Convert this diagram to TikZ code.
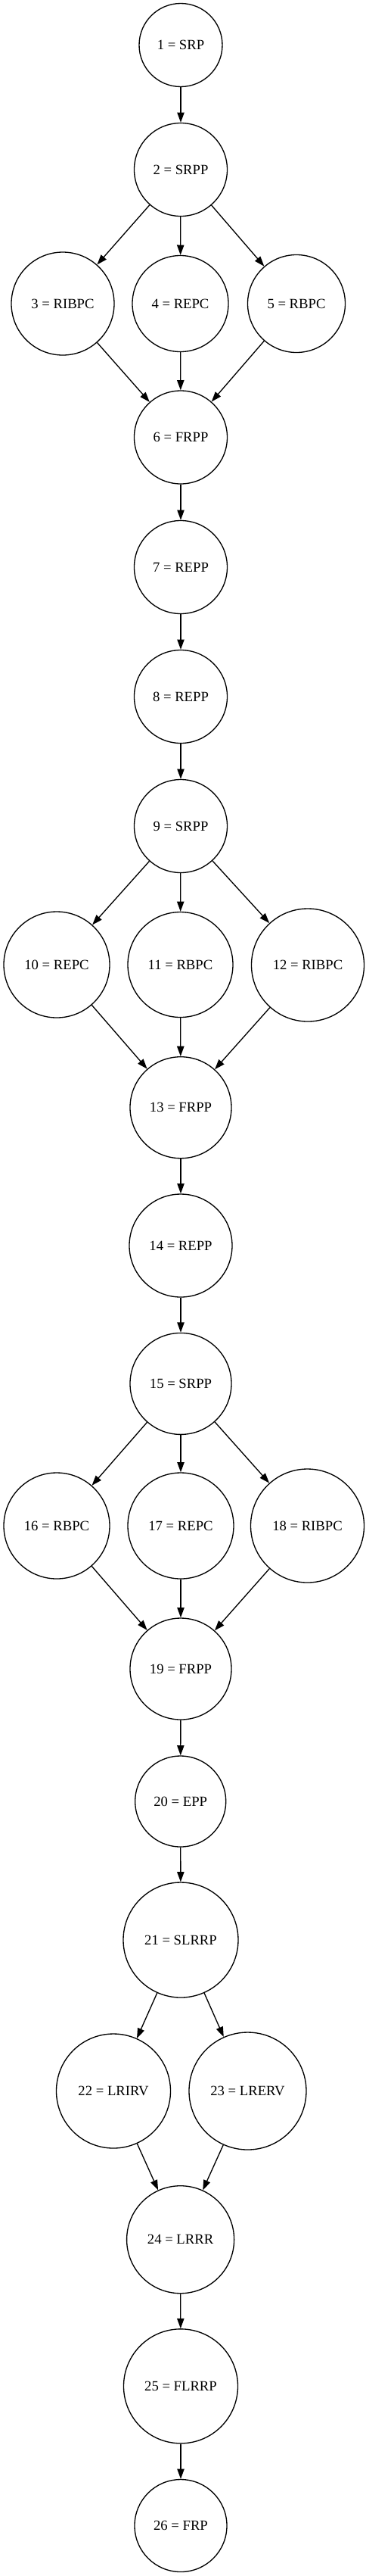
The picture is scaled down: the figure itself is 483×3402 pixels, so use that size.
\documentclass[tikz,border=0pt]{standalone}
\usepackage{fontspec}
\setmainfont{Liberation Serif}
\usetikzlibrary{arrows.meta}

\begin{document}
\begin{tikzpicture}[x=0.75pt,y=-0.75pt,
    state/.style={draw,circle,line width=1pt,inner sep=0pt,font=\fontsize{14pt}{16pt}\selectfont},
    link/.style={line width=1pt,-{Triangle[length=10pt,width=7pt]}}]
    \useasboundingbox (0,0) rectangle (483,3402);
    %first block
    \node[state,minimum size=82.5pt]   (s1) at (239,59.5) {1 = SRP};
    \node[state,minimum size=92.25pt]  (s2) at (239,224) {2 = SRPP};
    \node[state,minimum size=102pt]    (s3) at (83,401) {3 = RIBPC};
    \node[state,minimum size=95.25pt]  (s4) at (238.5,401) {4 = REPC};
    \node[state,minimum size=96.75pt]  (s5) at (392,401) {5 = RBPC};
    \node[state,minimum size=92.25pt]  (s6) at (239,577.5) {6 = FRPP};
    \node[state,minimum size=92.25pt]  (s7) at (239,749) {7 = REPP};
    \node[state,minimum size=92.25pt]  (s8) at (239,920) {8 = REPP};
    \draw[link](s1)--(s2);
    \draw[link](s2)--(s3);
    \draw[link](s2)--(s4);
    \draw[link](s2)--(s5);
    \draw[link](s3)--(s6);
    \draw[link](s4)--(s6);
    \draw[link](s5)--(s6);
    \draw[link](s6)--(s7);
    \draw[link](s7)--(s8);

    %second block
    \node[state,minimum size=92.25pt]  (s9) at (239,1091) {9 = SRPP};
    \node[state,minimum size=105pt]    (s10) at (75,1274) {10 = REPC};
    \node[state,minimum size=104.25pt] (s11) at (238.5,1274) {11 = RBPC};
    \node[state,minimum size=111.75pt] (s12) at (407,1274.5) {12 = RIBPC};
    \node[state,minimum size=100.5pt]  (s13) at (239,1462.7) {13 = FRPP};
    \node[state,minimum size=102pt]    (s14) at (239,1645) {14 = REPP};
    \draw[link](s8)--(s9);
    \draw[link](s9)--(s10);
    \draw[link](s9)--(s11);
    \draw[link](s9)--(s12);
    \draw[link](s10)--(s13);
    \draw[link](s11)--(s13);
    \draw[link](s12)--(s13);
    \draw[link](s13)--(s14);

    %third block
    \node[state,minimum size=100.5pt]  (s15) at (239,1827.4) {15 = SRPP};
    \node[state,minimum size=105pt]    (s16) at (75,2015) {16 = RBPC};
    \node[state,minimum size=105pt]    (s17) at (239,2015) {17 = REPC};
    \node[state,minimum size=112.5pt]  (s18) at (406.5,2015) {18 = RIBPC};
    \node[state,minimum size=100.5pt]  (s19) at (239,2204) {19 = FRPP};
    \node[state,minimum size=90pt]     (s20) at (238.7,2379) {20 = EPP};
    \draw[link](s14)--(s15);
    \draw[link](s15)--(s16);
    \draw[link](s15)--(s17);
    \draw[link](s15)--(s18);
    \draw[link](s16)--(s19);
    \draw[link](s17)--(s19);
    \draw[link](s18)--(s19);
    \draw[link](s19)--(s20);

    %last block
    \node[state,minimum size=114pt]    (s21) at (239,2562) {21 = SLRRP};
    \node[state,minimum size=113.25pt] (s22) at (150,2761.5) {22 = LRIRV};
    \node[state,minimum size=116.25pt] (s23) at (327.5,2761.5) {23 = LRERV};
    \node[state,minimum size=106.5pt]  (s24) at (238.6,2957.7) {24 = LRRR};
    \node[state,minimum size=113.25pt] (s25) at (239,3151.3) {25 = FLRRP};
    \node[state,minimum size=91.5pt]   (s26) at (239,3335.5) {26 = FRP};
    \draw[link](s20)--(s21);
    \draw[link](s21)--(s22);
    \draw[link](s21)--(s23);
    \draw[link](s22)--(s24);
    \draw[link](s23)--(s24);
    \draw[link](s24)--(s25);
    \draw[link](s25)--(s26);
\end{tikzpicture}
\end{document}
